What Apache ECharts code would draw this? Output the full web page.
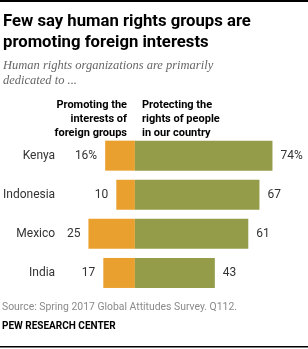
<!DOCTYPE html>
<html><head><meta charset="utf-8">
<script src="https://cdn.jsdelivr.net/npm/echarts@6/dist/echarts.min.js"></script>
<style>html,body{margin:0;padding:0;background:#fff}#c{width:308px;height:349px}</style>
</head><body><div id="c"></div>
<script>
const categories = ['Kenya', 'Indonesia', 'Mexico', 'India'];
const foreignValues = [16, 10, 25, 17];
const domesticValues = [74, 67, 61, 43];
const titleLines = ['Few say human rights groups are', 'promoting foreign interests'];
const subtitleLines = ['Human rights organizations are primarily', 'dedicated to ...'];
const leftHeader = ['Promoting the', 'interests of', 'foreign groups'];
const rightHeader = ['Protecting the', 'rights of people', 'in our country'];
const sourceText = 'Source: Spring 2017 Global Attitudes Survey. Q112.';
const brandText = 'PEW RESEARCH CENTER';

const chart = echarts.init(document.getElementById('c'), null, {renderer: 'canvas'});
const F = 'Roboto, "Liberation Sans", sans-serif';
chart.setOption({
  animation: false,
  grid: {left: 76.6, width: 225.6, top: 136.1, height: 156.4},
  xAxis: {type: 'value', min: -30, max: 90, show: false},
  yAxis: {type: 'category', data: categories, inverse: true,
    axisLine: {show: false}, axisTick: {show: false},
    axisLabel: {margin: 24, color: '#333', fontSize: 12, fontFamily: F}},
  series: [
    {type: 'bar', stack: 's', barWidth: 30, itemStyle: {color: '#EAA02F'},
     data: foreignValues.map(v => -v),
     label: {show: true, position: 'left', distance: 8, color: '#333', fontSize: 12, fontFamily: F,
       formatter: p => Math.abs(p.value) + (p.dataIndex === 0 ? '%' : '')}},
    {type: 'bar', stack: 's', barWidth: 30, itemStyle: {color: '#949C4A'},
     data: domesticValues,
     label: {show: true, position: 'right', distance: 8, color: '#333', fontSize: 12, fontFamily: F,
       formatter: p => p.value + (p.dataIndex === 0 ? '%' : '')}}
  ],
  graphic: [
    {type: 'rect', shape: {x: 0, y: 0, width: 308, height: 2}, style: {fill: '#000'}},
    {type: 'rect', shape: {x: 0, y: 346, width: 308, height: 1.5}, style: {fill: '#000'}},
    {type: 'text', x: 3, y: 11, style: {text: titleLines.join('\n'), font: 'bold 16.7px ' + F, fill: '#000', lineHeight: 21}},
    {type: 'text', x: 3, y: 58, style: {text: subtitleLines.join('\n'), font: 'italic 12.5px "Liberation Serif", serif', fill: '#666', lineHeight: 15}},
    {type: 'text', x: 127, y: 98, style: {text: leftHeader.join('\n'), font: 'bold 11px ' + F, fill: '#000', lineHeight: 14, align: 'right'}},
    {type: 'text', x: 142, y: 98, style: {text: rightHeader.join('\n'), font: 'bold 11px ' + F, fill: '#000', lineHeight: 14}},
    {type: 'text', x: 2, y: 302, style: {text: sourceText, font: '10.4px ' + F, fill: '#8a8a8a'}},
    {type: 'text', x: 2, y: 321, style: {text: brandText, font: 'bold 10px ' + F, fill: '#000'}}
  ]
});
</script></body></html>
